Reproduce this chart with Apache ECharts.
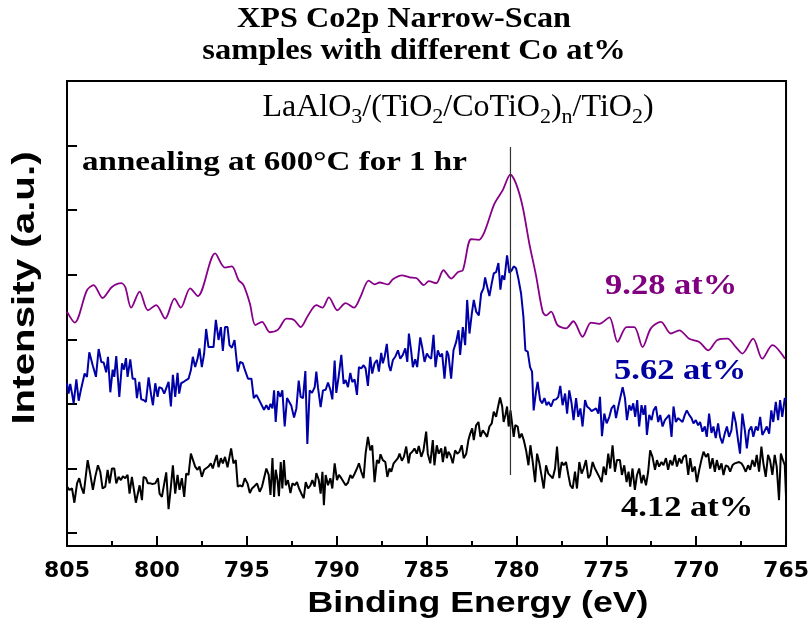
<!DOCTYPE html>
<html>
<head>
<meta charset="utf-8">
<title>XPS Co2p Narrow-Scan</title>
<script src="https://cdn.jsdelivr.net/npm/echarts@6/dist/echarts.min.js"></script>
<style>
  html, body { margin: 0; padding: 0; background: #fff; }
  #chart { width: 812px; height: 619px; }
</style>
</head>
<body>
<div id="chart"></div>
<script>
// Co2p spectra: [binding energy (eV), intensity (a.u., offset per sample)]
const co928 = [[805.00,3.43],[804.57,3.26],[803.89,3.76],[803.52,3.84],[803.02,3.64],[802.50,3.81],[801.98,3.87],[801.76,3.81],[801.43,3.49],[800.96,3.74],[800.50,3.45],[800.04,3.53],[799.54,3.32],[799.02,3.63],[798.67,3.49],[798.15,3.79],[797.72,3.67],[796.76,4.33],[796.21,4.11],[795.83,4.13],[795.46,3.92],[795.18,3.84],[794.83,3.56],[794.52,3.22],[794.15,3.27],[793.72,3.11],[793.26,3.15],[792.79,3.32],[792.37,3.30],[792.00,3.19],[791.59,3.37],[791.13,3.53],[790.79,3.49],[790.43,3.65],[789.96,3.45],[789.50,3.56],[789.04,3.49],[788.67,3.66],[788.22,3.91],[787.89,3.85],[787.61,3.88],[787.15,3.85],[786.87,3.93],[786.37,3.99],[785.94,3.96],[785.57,3.95],[785.15,3.84],[784.87,3.90],[784.46,3.87],[784.06,4.07],[783.63,3.94],[783.26,4.04],[782.98,4.07],[782.52,4.55],[782.09,4.54],[781.78,4.66],[781.22,5.10],[780.76,5.31],[780.33,5.55],[780.02,5.41],[779.65,5.05],[779.28,4.48],[778.91,3.99],[778.54,3.43],[778.35,3.37],[778.07,3.43],[777.71,3.22],[777.24,3.17],[776.83,3.28],[776.32,3.04],[775.85,3.26],[775.39,3.24],[774.83,3.34],[774.37,2.96],[773.87,3.19],[773.44,3.19],[772.98,2.88],[772.52,3.17],[771.96,3.27],[771.41,3.09],[770.94,3.14],[770.39,3.01],[769.83,2.96],[769.32,2.83],[768.82,2.99],[768.26,3.01],[767.79,2.88],[767.43,2.78],[766.83,3.01],[766.32,2.70],[765.76,2.91],[765.06,2.70]];

const co562 = [[805.00,2.32],[804.91,2.16],[804.82,2.31],[804.72,2.16],[804.63,2.01],[804.48,2.38],[804.35,2.05],[804.21,2.24],[804.02,2.47],[803.89,2.42],[803.76,2.80],[803.57,2.60],[803.39,2.42],[803.24,2.85],[803.09,2.65],[802.96,2.64],[802.82,2.49],[802.72,2.73],[802.59,2.18],[802.46,2.53],[802.37,2.42],[802.26,2.74],[802.09,2.11],[801.94,2.63],[801.83,2.53],[801.72,2.71],[801.63,2.42],[801.48,2.69],[801.35,2.39],[801.21,2.39],[801.11,2.09],[800.98,2.34],[800.87,2.07],[800.74,2.06],[800.61,2.03],[800.46,2.41],[800.32,2.14],[800.22,1.98],[800.09,2.32],[799.96,2.11],[799.87,2.26],[799.72,2.24],[799.59,2.16],[799.48,2.19],[799.35,2.34],[799.22,1.96],[799.11,2.45],[798.98,2.11],[798.85,2.48],[798.76,2.16],[798.65,2.32],[798.52,2.34],[798.37,2.37],[798.24,2.39],[798.11,2.52],[798.00,2.73],[797.87,2.57],[797.74,2.70],[797.63,2.86],[797.50,2.57],[797.37,2.78],[797.26,3.16],[797.13,2.88],[796.85,2.88],[796.72,3.30],[796.57,2.99],[796.44,3.19],[796.33,2.82],[796.21,3.19],[796.07,3.19],[795.96,2.91],[795.83,2.87],[795.68,2.99],[795.50,2.50],[795.37,2.65],[795.22,2.63],[795.11,2.53],[794.93,2.39],[794.74,2.39],[794.61,2.09],[794.46,2.14],[794.33,2.07],[794.22,2.09],[794.04,1.91],[793.91,1.98],[793.78,1.91],[793.68,2.00],[793.57,1.93],[793.48,2.21],[793.39,1.72],[793.26,2.20],[793.13,2.11],[793.02,2.21],[792.89,1.65],[792.76,2.09],[792.65,2.10],[792.52,1.97],[792.37,1.79],[792.24,1.93],[792.11,2.36],[792.00,2.11],[791.87,2.09],[791.74,2.51],[791.63,1.38],[791.50,2.21],[791.37,2.17],[791.22,2.26],[791.13,2.50],[791.04,2.26],[790.89,1.95],[790.76,2.21],[790.61,2.22],[790.48,2.33],[790.35,2.22],[790.24,2.07],[790.11,2.67],[790.02,2.17],[789.89,2.42],[789.74,2.76],[789.61,2.31],[789.50,2.37],[789.37,2.26],[789.24,2.48],[789.13,2.34],[789.00,2.38],[788.87,2.14],[788.76,2.57],[788.63,2.55],[788.50,2.60],[788.39,2.55],[788.26,2.28],[788.13,2.73],[788.02,2.47],[787.89,2.63],[787.76,2.68],[787.65,2.50],[787.52,2.79],[787.43,2.63],[787.33,2.73],[787.21,2.93],[787.09,2.59],[787.00,2.51],[786.87,2.68],[786.74,2.73],[786.59,2.83],[786.46,2.70],[786.32,2.76],[786.18,2.86],[786.07,2.65],[785.98,3.09],[785.85,2.81],[785.76,2.57],[785.63,2.69],[785.52,2.57],[785.35,3.03],[785.24,2.88],[785.11,2.65],[784.98,2.78],[784.87,2.73],[784.74,2.70],[784.61,3.07],[784.50,2.57],[784.37,2.83],[784.24,2.73],[784.13,2.78],[784.00,2.39],[783.87,2.82],[783.78,2.76],[783.63,2.39],[783.50,2.83],[783.35,2.96],[783.22,3.14],[783.13,2.76],[782.98,3.19],[782.85,2.91],[782.74,3.61],[782.61,3.09],[782.48,3.40],[782.37,3.61],[782.24,3.43],[782.09,3.37],[781.96,3.71],[781.83,3.79],[781.74,3.96],[781.65,3.84],[781.50,3.67],[781.37,3.87],[781.26,4.02],[781.13,4.04],[781.00,4.18],[780.89,3.77],[780.79,3.99],[780.67,3.92],[780.52,4.30],[780.39,4.03],[780.26,4.07],[780.15,4.13],[780.02,4.10],[779.89,3.94],[779.74,3.71],[779.61,3.35],[779.50,2.83],[779.37,2.81],[779.24,2.57],[779.13,2.50],[779.04,1.90],[778.91,2.19],[778.82,2.34],[778.68,2.06],[778.57,2.01],[778.44,2.09],[778.32,1.98],[778.21,2.03],[778.07,1.96],[777.94,2.06],[777.79,2.07],[777.67,2.11],[777.56,2.28],[777.43,1.98],[777.29,2.16],[777.18,1.85],[777.06,2.21],[776.93,2.01],[776.82,1.75],[776.68,2.09],[776.56,1.80],[776.44,1.93],[776.32,1.65],[776.18,2.06],[776.07,1.96],[775.94,1.93],[775.82,1.89],[775.71,1.88],[775.57,1.93],[775.44,1.85],[775.35,2.11],[775.24,1.50],[775.11,1.85],[774.98,1.70],[774.83,1.80],[774.71,1.93],[774.56,1.98],[774.46,1.78],[774.33,1.96],[774.22,1.93],[774.09,2.26],[773.96,2.09],[773.85,1.75],[773.72,1.98],[773.61,1.90],[773.50,2.01],[773.39,1.80],[773.28,2.06],[773.17,1.65],[773.04,1.98],[772.93,1.83],[772.83,1.98],[772.74,1.52],[772.61,1.83],[772.48,1.75],[772.37,1.90],[772.24,1.96],[772.11,1.72],[772.00,1.83],[771.87,1.65],[771.74,1.75],[771.63,1.72],[771.50,1.83],[771.37,1.49],[771.26,1.96],[771.13,1.72],[771.00,1.78],[770.89,1.80],[770.76,1.72],[770.63,1.83],[770.52,1.90],[770.39,1.83],[770.26,1.78],[770.15,1.70],[770.02,1.75],[769.89,1.67],[769.78,1.72],[769.65,1.57],[769.52,1.65],[769.41,1.49],[769.28,1.85],[769.15,1.55],[769.04,1.65],[768.91,1.47],[768.78,1.70],[768.67,1.49],[768.54,1.39],[768.41,1.54],[768.29,1.65],[768.17,1.49],[768.04,1.59],[767.93,1.88],[767.79,1.70],[767.67,1.44],[767.56,1.23],[767.43,1.85],[767.29,1.59],[767.18,1.31],[767.06,1.59],[766.93,1.65],[766.82,1.49],[766.68,1.65],[766.56,1.59],[766.44,1.80],[766.32,1.52],[766.18,1.59],[766.07,1.65],[765.94,1.54],[765.82,1.90],[765.71,1.72],[765.57,2.03],[765.44,1.75],[765.33,2.06],[765.21,1.80],[765.07,2.09],[765.00,2.06]];

const co412 = [[805.00,0.72],[804.87,0.67],[804.72,0.69],[804.59,0.47],[804.44,0.77],[804.32,0.85],[804.21,0.72],[804.07,0.61],[803.98,0.64],[803.85,1.13],[803.71,0.92],[803.56,0.67],[803.43,0.87],[803.28,1.05],[803.15,0.95],[803.02,0.69],[802.87,0.72],[802.74,0.98],[802.63,0.77],[802.50,1.00],[802.37,1.00],[802.26,0.77],[802.13,0.87],[802.00,0.82],[801.89,0.88],[801.76,0.85],[801.63,0.90],[801.52,0.61],[801.39,0.87],[801.26,0.64],[801.17,0.47],[801.06,0.48],[800.96,0.74],[800.83,0.51],[800.74,0.87],[800.61,0.85],[800.50,0.77],[800.37,0.77],[800.24,0.76],[800.09,0.77],[799.94,0.85],[799.85,0.61],[799.72,0.56],[799.59,0.77],[799.48,0.94],[799.35,0.37],[799.22,0.72],[799.11,1.05],[798.98,0.61],[798.85,0.90],[798.74,0.67],[798.61,0.85],[798.48,0.56],[798.37,0.92],[798.24,0.90],[798.11,1.23],[798.00,1.22],[797.87,1.03],[797.74,0.98],[797.63,1.03],[797.50,0.87],[797.37,0.98],[797.26,0.99],[797.13,1.03],[797.00,1.08],[796.89,1.00],[796.76,1.13],[796.67,1.21],[796.57,1.02],[796.44,1.16],[796.33,1.08],[796.21,1.18],[796.07,1.02],[795.96,1.18],[795.87,1.31],[795.74,1.08],[795.61,1.13],[795.50,0.72],[795.37,0.74],[795.24,0.72],[795.11,0.85],[794.96,0.77],[794.83,0.62],[794.71,0.69],[794.56,0.73],[794.43,0.77],[794.28,0.64],[794.15,0.72],[794.04,0.85],[793.91,1.00],[793.78,0.90],[793.68,0.59],[793.57,1.16],[793.48,0.56],[793.39,0.98],[793.29,0.82],[793.21,0.57],[793.11,1.10],[793.02,0.69],[792.93,1.13],[792.83,0.74],[792.71,0.82],[792.57,0.62],[792.46,0.77],[792.33,0.74],[792.21,0.79],[792.09,0.69],[791.96,0.61],[791.83,0.54],[791.72,0.79],[791.59,0.69],[791.46,0.74],[791.35,0.82],[791.22,0.72],[791.13,0.93],[791.00,0.83],[790.89,0.61],[790.79,0.95],[790.71,0.43],[790.61,0.90],[790.48,0.74],[790.35,0.85],[790.24,0.69],[790.11,1.08],[789.98,0.82],[789.87,0.90],[789.74,0.85],[789.61,0.79],[789.50,0.74],[789.37,0.78],[789.24,0.90],[789.13,0.85],[789.00,0.92],[788.87,1.00],[788.76,1.08],[788.63,0.95],[788.50,0.85],[788.39,1.23],[788.26,1.49],[788.13,1.28],[788.02,1.36],[787.89,0.79],[787.76,1.13],[787.65,1.08],[787.56,1.22],[787.43,1.13],[787.29,1.10],[787.18,0.87],[787.06,1.00],[786.96,0.95],[786.83,1.08],[786.72,1.05],[786.59,1.16],[786.50,1.23],[786.37,1.12],[786.26,1.18],[786.13,1.34],[786.00,1.08],[785.91,1.23],[785.79,1.26],[785.67,1.31],[785.54,1.23],[785.43,1.35],[785.29,1.18],[785.17,1.28],[785.02,1.57],[784.93,1.23],[784.79,1.08],[784.65,1.44],[784.56,1.05],[784.43,1.36],[784.32,1.23],[784.18,1.31],[784.09,1.10],[783.96,1.34],[783.87,1.16],[783.78,1.26],[783.67,1.21],[783.54,1.08],[783.41,1.28],[783.29,1.23],[783.17,1.26],[783.04,1.36],[782.93,1.16],[782.79,1.23],[782.67,1.44],[782.57,1.54],[782.46,1.62],[782.37,1.44],[782.24,1.67],[782.11,1.72],[782.00,1.49],[781.87,1.59],[781.74,1.54],[781.63,1.49],[781.50,1.65],[781.37,1.70],[781.26,1.88],[781.13,1.80],[781.04,1.93],[780.91,2.10],[780.79,1.96],[780.71,1.72],[780.61,1.83],[780.52,1.96],[780.43,1.65],[780.33,1.90],[780.24,1.70],[780.15,1.49],[780.06,1.67],[779.93,1.65],[779.83,1.47],[779.71,1.54],[779.59,1.44],[779.46,1.28],[779.33,1.05],[779.22,1.36],[779.09,1.10],[778.96,0.79],[778.85,1.23],[778.72,1.08],[778.59,0.87],[778.48,0.69],[778.35,1.05],[778.22,0.92],[778.11,0.95],[777.98,0.85],[777.85,1.00],[777.74,1.34],[777.61,0.85],[777.48,1.10],[777.37,1.05],[777.24,1.10],[777.11,0.90],[777.00,0.74],[776.87,0.69],[776.74,0.95],[776.63,0.69],[776.50,1.10],[776.37,0.92],[776.26,1.00],[776.13,1.13],[776.00,0.85],[775.89,0.90],[775.76,1.10],[775.63,1.00],[775.52,1.00],[775.39,0.87],[775.26,0.79],[775.15,1.03],[775.02,0.90],[774.89,1.23],[774.78,1.00],[774.65,1.36],[774.52,0.95],[774.41,1.13],[774.24,1.13],[774.13,0.90],[774.00,1.05],[773.87,0.79],[773.76,0.95],[773.67,0.72],[773.54,1.00],[773.41,0.67],[773.29,0.90],[773.17,1.00],[773.04,0.77],[772.93,0.90],[772.79,0.74],[772.67,0.95],[772.56,1.28],[772.43,1.18],[772.29,0.98],[772.18,1.13],[772.06,1.03],[771.93,1.10],[771.82,1.05],[771.68,1.16],[771.56,0.98],[771.44,1.13],[771.32,1.05],[771.18,1.21],[771.07,1.03],[770.94,1.16],[770.82,1.08],[770.71,1.18],[770.57,1.21],[770.44,0.90],[770.33,1.16],[770.21,0.95],[770.07,1.03],[769.96,0.79],[769.83,0.98],[769.71,1.13],[769.59,1.26],[769.46,1.18],[769.33,1.23],[769.22,1.00],[769.09,1.16],[768.96,0.95],[768.85,1.13],[768.72,0.98],[768.59,1.08],[768.48,0.90],[768.35,1.05],[768.22,1.03],[768.11,0.95],[767.98,1.05],[767.85,1.08],[767.74,1.05],[767.61,1.10],[767.48,1.08],[767.37,1.03],[767.24,0.95],[767.11,1.05],[767.00,0.98],[766.87,1.13],[766.74,1.03],[766.63,1.21],[766.50,0.95],[766.37,1.34],[766.26,1.08],[766.13,0.87],[766.00,1.21],[765.89,1.13],[765.76,0.90],[765.63,1.21],[765.52,1.03],[765.39,0.51],[765.29,1.23],[765.21,1.16],[765.07,1.05],[765.00,0.56]];

// reference line at the Co2p3/2 peak position
const peakLine = [[780.33, 0.90], [780.33, 5.98]];

const energyTicks = { min: 765, max: 805, step: 5 };
const intensityTicks = [0, 1, 2, 3, 4, 5, 6, 7];

const sampleLabels = ['9.28 at%', '5.62 at%', '4.12 at%'];
const colors = { co928: '#880088', co562: '#0000A8', co412: '#000000' };

const chart = echarts.init(document.getElementById('chart'), null, { renderer: 'canvas' });

const serifBold = 'bold {s}px "Liberation Serif", "Times New Roman", serif';
const sansBold = 'bold {s}px "Liberation Sans", Arial, sans-serif';
const font = (tpl, s) => tpl.replace('{s}', s);

function textEl(text, x, y, size, opts) {
  opts = opts || {};
  return {
    type: 'text',
    x: x, y: y,
    rotation: opts.rotation || 0,
    scaleX: opts.scaleX || 1,
    silent: true,
    style: {
      text: text,
      font: opts.font || font(serifBold, size),
      fill: opts.color || '#000',
      textAlign: opts.align || 'center',
      align: opts.align || 'center',
      textVerticalAlign: 'middle',
      verticalAlign: 'middle',
      rich: opts.rich
    }
  };
}

const formulaRich = {
  m: { fontFamily: '"Liberation Serif", serif', fontSize: 32, lineHeight: 36, verticalAlign: 'top', fill: '#000', color: '#000' },
  s: { fontFamily: '"Liberation Serif", serif', fontSize: 22, lineHeight: 15, verticalAlign: 'bottom', fill: '#000', color: '#000' }
};

const option = {
  animation: false,
  backgroundColor: '#ffffff',
  grid: {
    left: 67, right: 25, top: 81, bottom: 73,
    show: true, borderColor: '#000', borderWidth: 2, backgroundColor: 'transparent'
  },
  xAxis: {
    type: 'value',
    min: energyTicks.min,
    max: energyTicks.max,
    interval: energyTicks.step,
    inverse: true,
    axisLine: { onZero: false, lineStyle: { color: '#000', width: 2 } },
    axisTick: { inside: true, length: 10, lineStyle: { color: '#000', width: 2 } },
    minorTick: { show: true, splitNumber: 2, length: 5, lineStyle: { color: '#000', width: 2 } },
    splitLine: { show: false },
    axisLabel: {
      color: '#000', fontSize: 22, fontWeight: 'bold',
      fontFamily: '"DejaVu Sans", sans-serif', margin: 14
    }
  },
  yAxis: {
    type: 'value',
    min: -0.2,
    max: 7,
    axisLine: { show: true, onZero: false, lineStyle: { color: '#000', width: 2 } },
    axisTick: { show: true, inside: true, length: 10, customValues: intensityTicks, lineStyle: { color: '#000', width: 2 } },
    axisLabel: { show: false },
    splitLine: { show: false }
  },
  series: [
    { name: sampleLabels[2], type: 'line', data: co412, showSymbol: false, lineStyle: { color: colors.co412, width: 2 }, z: 2 },
    { name: sampleLabels[1], type: 'line', data: co562, showSymbol: false, lineStyle: { color: colors.co562, width: 2 }, z: 3 },
    { name: sampleLabels[0], type: 'line', data: co928, showSymbol: false, smooth: 0.3, lineStyle: { color: colors.co928, width: 1.8 }, z: 4 },
    { name: 'peak', type: 'line', data: peakLine, showSymbol: false, lineStyle: { color: '#333', width: 1.2 }, z: 5 }
  ],
  graphic: [
    textEl('XPS Co2p Narrow-Scan', 404, 20, 29, { scaleX: 1.11 }),
    textEl('samples with different Co at%', 414, 52, 29, { scaleX: 1.12 }),
    textEl('{m|LaAlO}{s|3}{m|/(TiO}{s|2}{m|/CoTiO}{s|2}{m|)}{s|n}{m|/TiO}{s|2}{m|)}', 458, 110, 32, { rich: formulaRich, font: '32px "Liberation Serif", serif' }),
    textEl('annealing at 600°C for 1 hr', 82, 163, 28, { align: 'left', scaleX: 1.18 }),
    textEl(sampleLabels[0], 605, 286, 30, { align: 'left', color: '#800080', scaleX: 1.15 }),
    textEl(sampleLabels[1], 614, 371, 30, { align: 'left', color: '#0000A0', scaleX: 1.15 }),
    textEl(sampleLabels[2], 621, 508, 30, { align: 'left', color: '#000', scaleX: 1.15 }),
    textEl('Binding Energy (eV)', 478, 604, 29, { font: font(sansBold, 29), scaleX: 1.23 }),
    textEl('Intensity (a.u.)', 25, 288, 31, { font: font(sansBold, 31), scaleX: 1.3, rotation: Math.PI / 2 })
  ]
};

chart.setOption(option);
</script>
</body>
</html>
